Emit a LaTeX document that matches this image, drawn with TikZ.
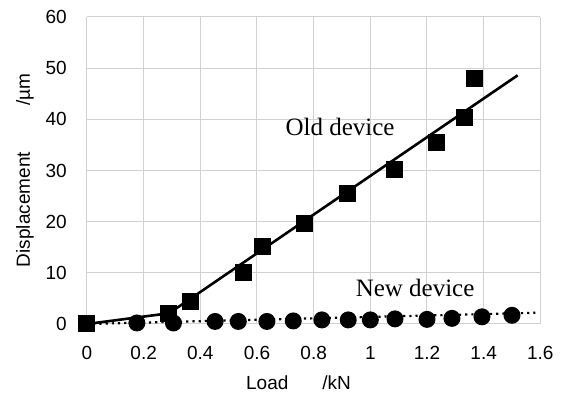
\documentclass[tikz,border=0pt]{standalone}
\usepackage{fontspec}
\setmainfont{Liberation Serif}
\setsansfont{Liberation Sans}

\begin{document}
\begin{tikzpicture}
        [x=283.33pt, y=5.117pt, every node/.style={inner sep=0},
         sq/.style={draw=none,fill=black,shape=rectangle,minimum size=17pt},
         dot/.style={draw=none,fill=black,shape=circle,minimum size=17pt},
         ticklbl/.style={font=\sffamily\fontsize{19}{19}\selectfont},
         curvelbl/.style={font=\fontsize{25}{25}\selectfont},
         gridline/.style={draw=black!18, line width=1pt}]

        \useasboundingbox (-87pt,-79pt) rectangle (478pt,324pt);

        % grid and tick labels
        \foreach \v in {0,10,...,60} {
          \draw[gridline] (0,\v) -- (1.6,\v);
          \node[ticklbl, anchor=east, xshift=-20pt] (y\v) at (0,\v) {\v};
        }
        \foreach \v/\t in {0/0,1/0.2,2/0.4,3/0.6,4/0.8,5/1,6/1.2,7/1.4,8/1.6} {
          \draw[gridline] (\v*0.2,0) -- (\v*0.2,60);
          \node[ticklbl, yshift=-29pt] (x\v) at (\v*0.2,0) {\t};
        }

        \node[ticklbl, rotate=90] (ytitle) at ([xshift=-62pt]0,30) {Displacement\hspace{46pt}/µm};
        \node[ticklbl] (xtitle) at ([yshift=-59pt]0.7465,0) {Load\hspace{34pt}/kN};

        % trend lines
        \coordinate (ostart) at (0,0);
        \coordinate (okink) at (0.29,2.1);
        \coordinate (oend) at (1.52,48.6);
        \coordinate (nstart) at (0,0);
        \coordinate (nend) at (1.59,2.2);

        \draw[line width=2.6pt, black] (ostart) -- (okink) -- (oend);
        \draw[line width=2.2pt, black, dash pattern=on 2.2pt off 4pt] (nstart) -- (nend);

        % old device
        \node[sq] (o1) at (0, 0) {};
        \node[sq] (o2) at (0.286, 2.0) {};
        \node[sq] (o3) at (0.367, 4.3) {};
        \node[sq] (o4) at (0.551, 10.1) {};
        \node[sq] (o5) at (0.618, 15.1) {};
        \node[sq] (o6) at (0.769, 19.7) {};
        \node[sq] (o7) at (0.918, 25.5) {};
        \node[sq] (o8) at (1.087, 30.2) {};
        \node[sq] (o9) at (1.235, 35.4) {};
        \node[sq] (o10) at (1.331, 40.4) {};
        \node[sq] (o11) at (1.366, 47.9) {};

        % new device
        \node[dot] (n1) at (0.176, 0.2) {};
        \node[dot] (n2) at (0.305, 0.2) {};
        \node[dot] (n3) at (0.452, 0.5) {};
        \node[dot] (n4) at (0.534, 0.5) {};
        \node[dot] (n5) at (0.635, 0.5) {};
        \node[dot] (n6) at (0.728, 0.6) {};
        \node[dot] (n7) at (0.829, 0.8) {};
        \node[dot] (n8) at (0.922, 0.8) {};
        \node[dot] (n9) at (1.0, 0.8) {};
        \node[dot] (n10) at (1.087, 1.0) {};
        \node[dot] (n11) at (1.2, 0.9) {};
        \node[dot] (n12) at (1.288, 1.1) {};
        \node[dot] (n13) at (1.394, 1.4) {};
        \node[dot] (n14) at (1.5, 1.7) {};

        \node[curvelbl] (oldlbl) at (0.893, 38.5) {Old device};
        \node[curvelbl] (newlbl) at (1.158, 7.0) {New device};

      \end{tikzpicture}
\end{document}
